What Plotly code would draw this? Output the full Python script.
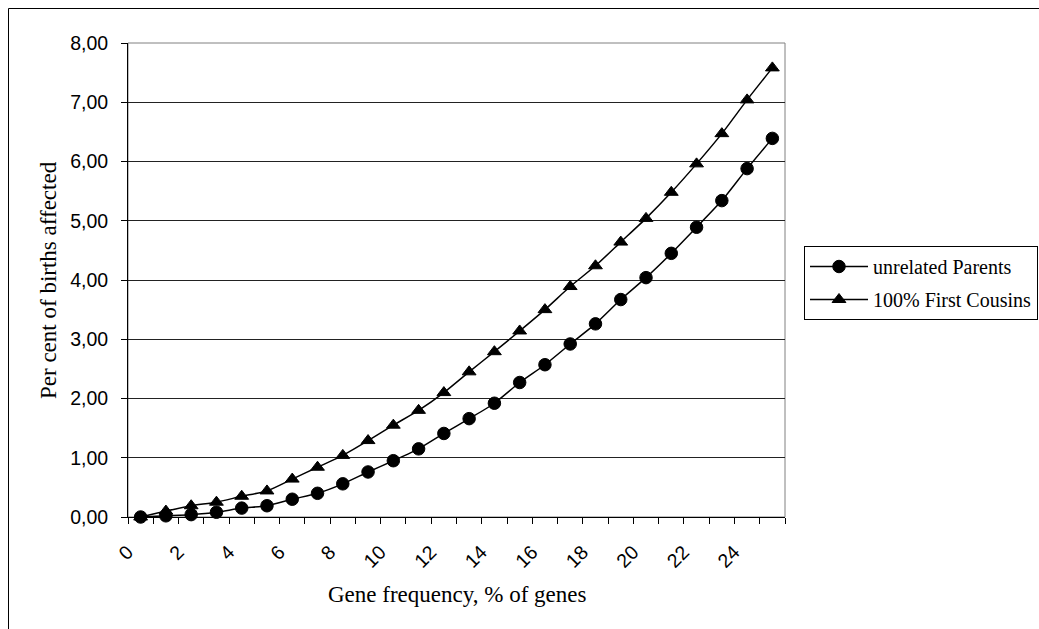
import plotly.graph_objects as go

categories = list(range(26))
tick_vals = list(range(0, 25, 2))
tick_labels = [str(v) for v in tick_vals]
boundaries = [c - 0.5 for c in categories] + [25.5]

unrelated = [0.00, 0.02, 0.04, 0.08, 0.15, 0.19, 0.30, 0.40, 0.56, 0.76, 0.95, 1.15, 1.41,
             1.66, 1.92, 2.27, 2.57, 2.92, 3.26, 3.67, 4.04, 4.45, 4.89, 5.34, 5.88, 6.39]
cousins = [0.00, 0.10, 0.19, 0.25, 0.35, 0.44, 0.64, 0.84, 1.04, 1.29, 1.55, 1.80, 2.10,
           2.45, 2.79, 3.14, 3.50, 3.89, 4.24, 4.64, 5.04, 5.48, 5.96, 6.47, 7.04, 7.58]

names = ["unrelated Parents", "100% First Cousins"]
y_title = "Per cent of births affected"
x_title = "Gene frequency, % of genes"

SANS = "Liberation Sans, Arial, sans-serif"
SERIF = "Liberation Serif, Times New Roman, serif"

fig = go.Figure()
fig.add_trace(go.Scatter(
    x=categories, y=unrelated, name=names[0], mode="lines+markers", cliponaxis=False,
    line=dict(color="black", width=1.5, shape="spline", smoothing=0.6),
    marker=dict(symbol="circle", size=12.5, color="black", line=dict(color="black", width=1)),
    legendgroup="a",
))
fig.add_trace(go.Scatter(
    x=categories, y=cousins, name=names[1], mode="lines+markers", cliponaxis=False,
    line=dict(color="black", width=1.5, shape="spline", smoothing=0.6),
    marker=dict(symbol="triangle-up", size=12, color="black", line=dict(color="black", width=1)),
    legendgroup="b",
))

W, H = 1039, 629
L, R, T, B = 128, 254, 43, 112
pw, ph = W - L - R, H - T - B

def px_to_paper_x(px):
    return (px - L) / pw

def px_to_paper_y(py):
    return (H - B - py) / ph

fig.update_layout(
    width=W, height=H,
    margin=dict(l=L, r=R, t=T, b=B, autoexpand=False),
    paper_bgcolor="white", plot_bgcolor="white",
    separators=",.",
    showlegend=True,
    legend=dict(
        x=px_to_paper_x(804), y=px_to_paper_y(246), xanchor="left", yanchor="top",
        bordercolor="black", borderwidth=1, bgcolor="white",
        font=dict(family=SERIF, size=20, color="black"),
        traceorder="grouped", tracegroupgap=4, itemwidth=58,
    ),
    xaxis=dict(
        range=[-0.5, 25.5], tickmode="array", tickvals=tick_vals, ticktext=tick_labels,
        tickangle=-45, ticks="outside", ticklen=0, tickcolor="rgba(0,0,0,0)",
        ticklabelstandoff=15, ticklabelshift=-13,
        tickfont=dict(family=SANS, size=19.5, color="black"),
        showgrid=False, zeroline=False, showline=True, linecolor="black", linewidth=1,
        minor=dict(tickmode="array", tickvals=boundaries, ticks="outside", ticklen=6,
                   tickcolor="black", tickwidth=1, showgrid=False),
        fixedrange=True,
    ),
    yaxis=dict(
        range=[0, 8], dtick=1, tick0=0, tickformat=".2f",
        ticks="outside", ticklen=6, tickcolor="black", tickwidth=1,
        ticklabelstandoff=9,
        tickfont=dict(family=SANS, size=19.5, color="black"),
        showgrid=True, gridcolor="#222222", gridwidth=1,
        zeroline=False, showline=True, linecolor="black", linewidth=1,
        fixedrange=True,
    ),
    shapes=[
        dict(type="rect", xref="paper", yref="paper", x0=0, x1=1, y0=0, y1=1,
             line=dict(color="#808080", width=1), layer="below"),
        dict(type="line", xref="paper", yref="paper",
             x0=px_to_paper_x(8.5), x1=px_to_paper_x(8.5),
             y0=px_to_paper_y(700), y1=px_to_paper_y(8.5),
             line=dict(color="black", width=1), layer="below"),
        dict(type="line", xref="paper", yref="paper",
             x0=px_to_paper_x(8.5), x1=px_to_paper_x(1200),
             y0=px_to_paper_y(8.5), y1=px_to_paper_y(8.5),
             line=dict(color="black", width=1), layer="below"),
    ],
    annotations=[
        dict(text=y_title, xref="paper", yref="paper", x=px_to_paper_x(48), y=0.5,
             xanchor="center", yanchor="middle", textangle=-90, showarrow=False,
             font=dict(family=SERIF, size=23, color="black")),
        dict(text=x_title, xref="paper", yref="paper", x=0.5, y=px_to_paper_y(594),
             xanchor="center", yanchor="middle", showarrow=False,
             font=dict(family=SERIF, size=23, color="black")),
    ],
)

fig.write_html("out.html", config={"displayModeBar": False})
